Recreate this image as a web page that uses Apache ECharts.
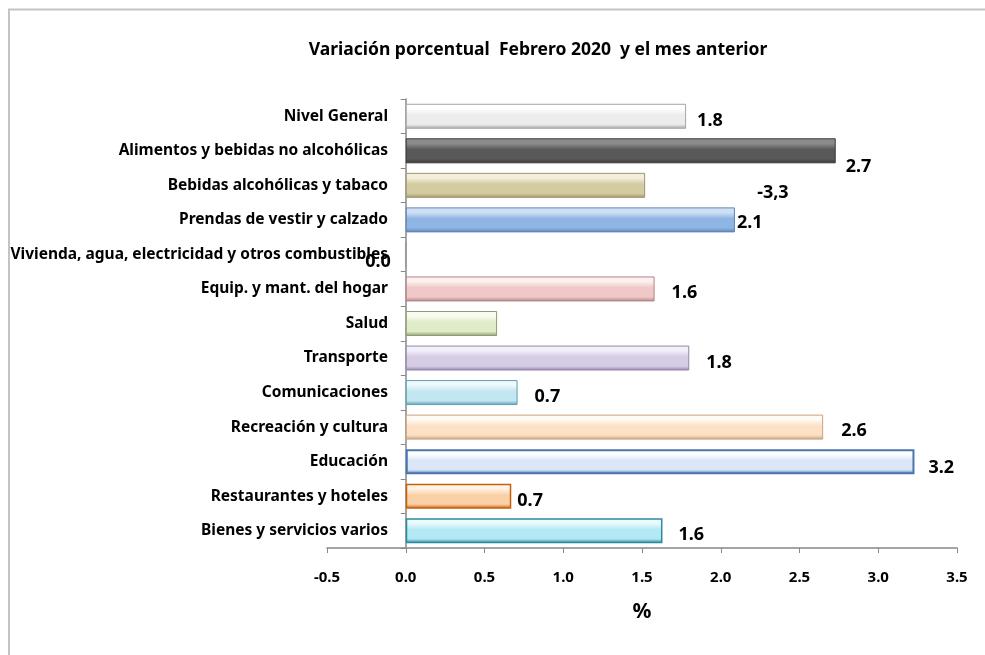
<!DOCTYPE html>
<html>
<head>
<meta charset="utf-8">
<script src="https://cdn.jsdelivr.net/npm/echarts@6/dist/echarts.min.js"></script>
<style>
  html, body { margin: 0; padding: 0; background: #fff; }
  #main { width: 985px; height: 655px; }
</style>
</head>
<body>
<div id="main"></div>
<script>
// data
const categories = [
  'Nivel General',
  'Alimentos y bebidas no alcohólicas',
  'Bebidas alcohólicas y tabaco',
  'Prendas de vestir y calzado',
  'Vivienda, agua, electricidad y otros combustibles',
  'Equip. y mant. del hogar',
  'Salud',
  'Transporte',
  'Comunicaciones',
  'Recreación y cultura',
  'Educación',
  'Restaurantes y hoteles',
  'Bienes y servicios varios'
]
const values = [1.78, 2.73, 1.52, 2.09, 0, 1.58, 0.58, 1.80, 0.71, 2.65, 3.23, 0.67, 1.63]
// labels as printed on the original (some do not match the bars)
const labelTexts = ['1.8', '2.7', '-3,3', '2.1', '0.0', '1.6', '', '1.8', '0.7', '2.6', '3.2', '0.7', '1.6']
const xTicks = ['-0.5', '0.0', '0.5', '1.0', '1.5', '2.0', '2.5', '3.0', '3.5']

// styles: [top light, main, bottom edge]
const barColors = [
  ['#ffffff', '#ececec', '#a6a6a6'],
  ['#8c8c8c', '#595959', '#3a3a3a'],
  ['#f3efdc', '#d4cca0', '#9e9670'],
  ['#cfe0f6', '#8fb5e4', '#5f84b4'],
  ['#ffffff', '#dddddd', '#999999'],
  ['#fdf0f0', '#efc8c7', '#b08786'],
  ['#f8fbf1', '#e0ebc8', '#8c9c70'],
  ['#f3eff8', '#d6cde5', '#9686ad'],
  ['#eef9fc', '#c2e7f0', '#5e9fb0'],
  ['#fffaf3', '#fde1c6', '#c9a27e'],
  ['#ffffff', '#dbe6f6', '#4a76b0'],
  ['#fff3e6', '#fbd0a6', '#c4620c'],
  ['#eafafd', '#b4e9f4', '#2f8aa0']
]
const borderWidths = [1, 1, 1, 1, 1, 1, 1, 1, 1, 1, 2, 1.5, 1.5]
const labelOffsets = [
  [6, 5], [5, 16], [107, 8], [-3, 3], [-46, 7], [12, 4], [0, 0],
  [12, 5], [12, 4], [13, 4], [9, 6], [1, 5], [11, 4]
]

const font = '"Noto Sans", "DejaVu Sans", sans-serif'

const seriesData = values.map((v, i) => ({
  value: v,
  itemStyle: {
    color: new echarts.graphic.LinearGradient(0, 0, 0, 1, [
      { offset: 0, color: barColors[i][0] },
      { offset: 0.2, color: barColors[i][0] },
      { offset: 0.45, color: barColors[i][1] },
      { offset: 0.82, color: barColors[i][1] },
      { offset: 1, color: barColors[i][2] }
    ]),
    borderColor: barColors[i][2],
    borderWidth: borderWidths[i]
  },
  label: {
    offset: labelOffsets[i]
  }
}))

const chart = echarts.init(document.getElementById('main'))
chart.setOption({
  animation: false,
  backgroundColor: '#fff',
  graphic: [{
    type: 'polyline',
    shape: { points: [[9, 655], [9, 9.5], [985, 9.5]] },
    style: { stroke: '#c4c4c4', lineWidth: 2, fill: null }
  }],
  title: {
    text: 'Variación porcentual  Febrero 2020  y el mes anterior',
    left: 533,
    textAlign: 'center',
    top: 36,
    textStyle: { fontFamily: font, fontSize: 17.5, fontWeight: 'bold', color: '#000' }
  },
  grid: { left: 327, right: 28, top: 99, bottom: 107, containLabel: false, outerBoundsMode: 'none' },
  xAxis: {
    type: 'value',
    min: -0.5,
    max: 3.5,
    interval: 0.5,
    name: '%',
    nameLocation: 'middle',
    nameGap: 54,
    nameTextStyle: { fontFamily: font, fontSize: 21, fontWeight: 'bold', color: '#000' },
    axisLine: { show: true, lineStyle: { color: '#888', width: 1.5 } },
    axisTick: { show: true, length: 5, lineStyle: { color: '#888' } },
    splitLine: { show: false },
    axisLabel: {
      margin: 22,
      fontFamily: font, fontSize: 15, fontWeight: 'bold', color: '#000',
      formatter: (v) => xTicks[Math.round((v + 0.5) / 0.5)]
    }
  },
  yAxis: {
    type: 'category',
    data: categories,
    inverse: true,
    position: 'left',
    axisLine: { show: true, onZero: true, lineStyle: { color: '#888', width: 1.5 } },
    axisTick: { show: true, length: 5, lineStyle: { color: '#888' } },
    axisLabel: {
      margin: -61,
      fontFamily: font, fontSize: 15.5, fontWeight: 'bold', color: '#000'
    }
  },
  series: [{
    type: 'bar',
    data: seriesData,
    barWidth: 25,
    label: {
      show: true,
      position: 'right',
      distance: 5,
      fontFamily: font, fontSize: 18, fontWeight: 'bold', color: '#000',
      formatter: (p) => labelTexts[p.dataIndex]
    }
  }]
})
</script>
</body>
</html>
